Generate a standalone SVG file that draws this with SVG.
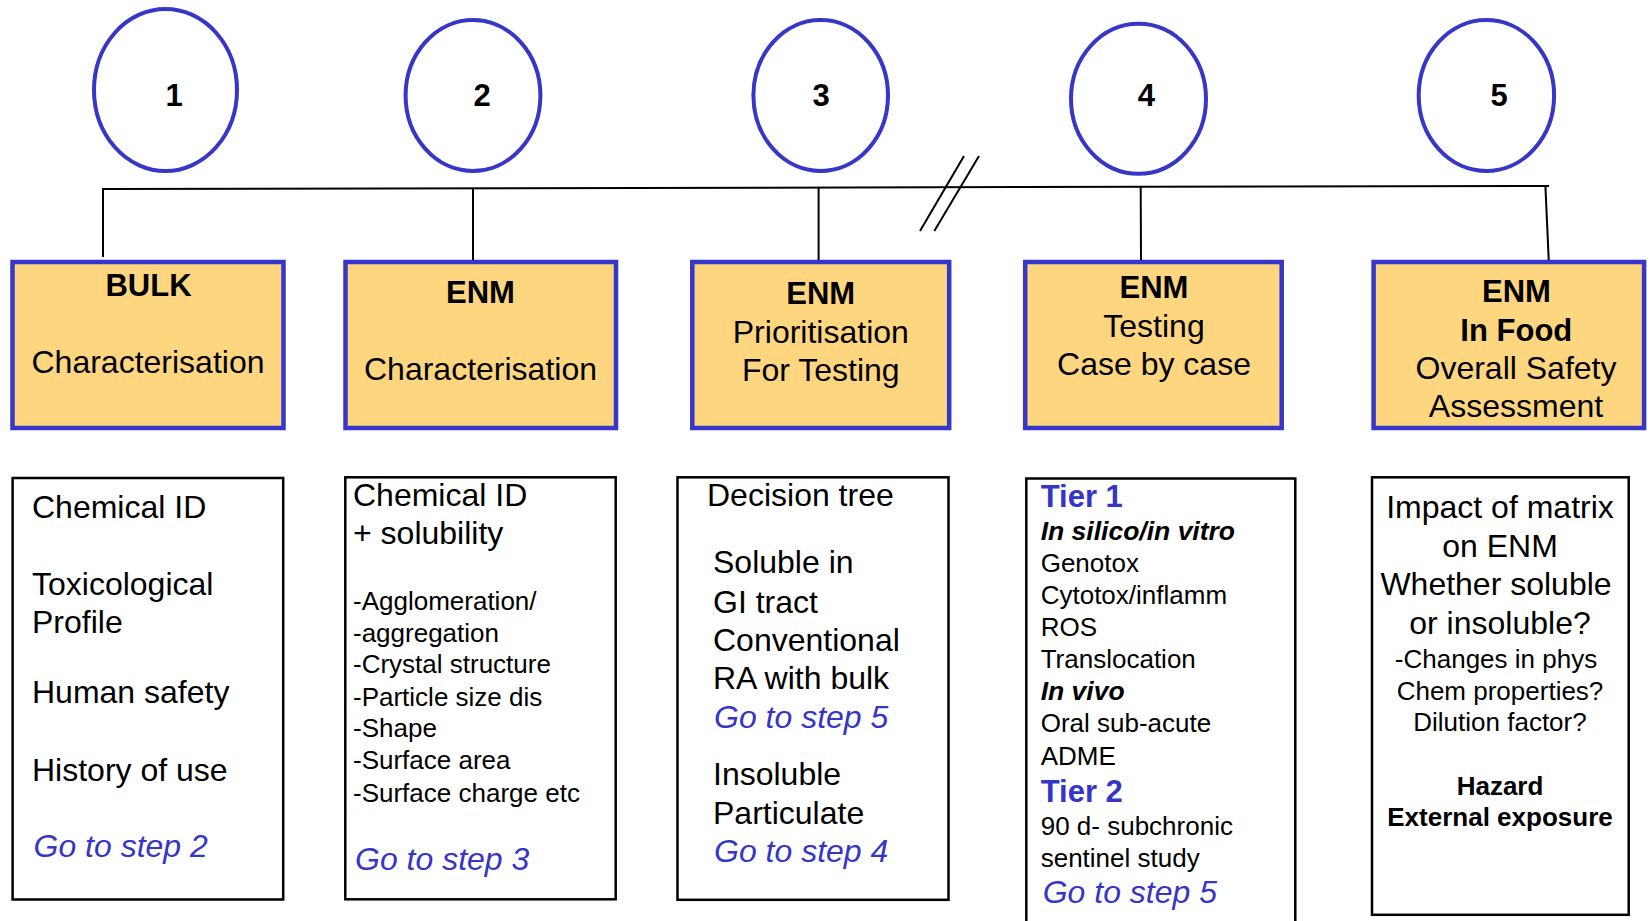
<svg xmlns="http://www.w3.org/2000/svg" width="1650" height="921" viewBox="0 0 1650 921">
<style>
text{font-family:"Liberation Sans",Arial,sans-serif;fill:#000}
.circ{fill:#fff;stroke:#3636C8;stroke-width:4}
.num{font-size:31px;font-weight:bold;text-anchor:middle}
.top{fill:#FED67F;stroke:#3636C8;stroke-width:4.5}
.bot{fill:#fff;stroke:#000;stroke-width:2.5}
.t32{font-size:32px}
.t26{font-size:26px}
.b31{font-size:31px;font-weight:bold}
.mid{text-anchor:middle}
.go{font-size:32px;font-style:italic;fill:#3535C8}
.tier{font-size:31px;font-weight:bold;fill:#3535C8}
.bi{font-size:26.5px;font-weight:bold;font-style:italic}
.b26{font-size:26px;font-weight:bold}
.conn{stroke:#000;stroke-width:2;fill:none}
</style>
<rect width="1650" height="921" fill="#fff"/>
<g id="connectors">
<line class="conn" x1="102" y1="189" x2="1549" y2="186"/>
<line class="conn" x1="103" y1="189" x2="103" y2="257"/>
<line class="conn" x1="473" y1="188" x2="473" y2="261"/>
<line class="conn" x1="818.6" y1="188" x2="818.6" y2="265"/>
<line class="conn" x1="1140.7" y1="187" x2="1141" y2="260"/>
<line class="conn" x1="1545.4" y1="186" x2="1549" y2="266"/>
<line class="conn" x1="920" y1="231" x2="964" y2="156"/>
<line class="conn" x1="934.3" y1="231" x2="979" y2="156"/>
</g>
<g id="step1"><ellipse class="circ" cx="165.5" cy="90" rx="71.5" ry="81"/><text class="num" x="174" y="106">1</text></g>
<g id="step2"><ellipse class="circ" cx="473" cy="95.5" rx="67.4" ry="75.5"/><text class="num" x="482" y="106">2</text></g>
<g id="step3"><ellipse class="circ" cx="820.7" cy="95.5" rx="67.3" ry="75.5"/><text class="num" x="821" y="106">3</text></g>
<g id="step4"><ellipse class="circ" cx="1138.5" cy="98.8" rx="67.5" ry="75"/><text class="num" x="1146.4" y="106">4</text></g>
<g id="step5"><ellipse class="circ" cx="1486.4" cy="95.5" rx="67.7" ry="75.5"/><text class="num" x="1499" y="106">5</text></g>

<g id="box1">
<rect class="top" x="12.5" y="262" width="271" height="166"/>
<text class="b31 mid" x="148.5" y="296">BULK</text>
<text class="t32 mid" x="148" y="373">Characterisation</text>
</g>
<g id="box2">
<rect class="top" x="345.5" y="262" width="270.5" height="166"/>
<text class="b31 mid" x="480.5" y="303">ENM</text>
<text class="t32 mid" x="480.5" y="380">Characterisation</text>
</g>
<g id="box3">
<rect class="top" x="692.3" y="262" width="256.9" height="166"/>
<text class="b31 mid" x="820.7" y="304">ENM</text>
<text class="t32 mid" x="820.8" y="343">Prioritisation</text>
<text class="t32 mid" x="820.8" y="381">For Testing</text>
</g>
<g id="box4">
<rect class="top" x="1025.2" y="262" width="256.5" height="166"/>
<text class="b31 mid" x="1154" y="298">ENM</text>
<text class="t32 mid" x="1154" y="337">Testing</text>
<text class="t32 mid" x="1154" y="375">Case by case</text>
</g>
<g id="box5">
<rect class="top" x="1373.6" y="262" width="270.5" height="166"/>
<text class="b31 mid" x="1516.4" y="301.7">ENM</text>
<text class="b31 mid" x="1516.3" y="340.7">In Food</text>
<text class="t32 mid" x="1516" y="379">Overall Safety</text>
<text class="t32 mid" x="1516" y="416.7">Assessment</text>
</g>

<g id="detail1">
<rect class="bot" x="12.6" y="478" width="270.6" height="421.5"/>
<text class="t32" x="32" y="518.3">Chemical ID</text>
<text class="t32" x="32" y="595">Toxicological</text>
<text class="t32" x="32" y="632.7">Profile</text>
<text class="t32" x="32" y="703.3">Human safety</text>
<text class="t32" x="32" y="780.7">History of use</text>
<text class="go" x="33.5" y="856.7">Go to step 2</text>
</g>
<g id="detail2">
<rect class="bot" x="345.3" y="477.3" width="270.4" height="422"/>
<text class="t32" x="353" y="506">Chemical ID</text>
<text class="t32" x="353" y="544">+ solubility</text>
<text class="t26" x="353" y="610">-Agglomeration/</text>
<text class="t26" x="353" y="641.7">-aggregation</text>
<text class="t26" x="353" y="673.3">-Crystal structure</text>
<text class="t26" x="353" y="705.7">-Particle size dis</text>
<text class="t26" x="353" y="737.3">-Shape</text>
<text class="t26" x="353" y="769.3">-Surface area</text>
<text class="t26" x="353" y="801.7">-Surface charge etc</text>
<text class="go" x="355" y="870">Go to step 3</text>
</g>
<g id="detail3">
<rect class="bot" x="677.5" y="477.3" width="271" height="422.5"/>
<text class="t32" x="707" y="505.7">Decision tree</text>
<text class="t32" x="713" y="573.3">Soluble in</text>
<text class="t32" x="713" y="612.7">GI tract</text>
<text class="t32" x="713" y="651">Conventional</text>
<text class="t32" x="713" y="689.3">RA with bulk</text>
<text class="go" x="714" y="727.7">Go to step 5</text>
<text class="t32" x="713" y="785">Insoluble</text>
<text class="t32" x="713" y="824.3">Particulate</text>
<text class="go" x="714" y="862.3">Go to step 4</text>
</g>
<g id="detail4">
<rect class="bot" x="1026.3" y="478.5" width="269" height="470"/>
<text class="tier" x="1040.7" y="507.3">Tier 1</text>
<text class="bi" x="1040.7" y="540">In silico/in vitro</text>
<text class="t26" x="1040.7" y="571.7">Genotox</text>
<text class="t26" x="1040.7" y="604">Cytotox/inflamm</text>
<text class="t26" x="1040.7" y="636">ROS</text>
<text class="t26" x="1040.7" y="668.3">Translocation</text>
<text class="bi" x="1040.7" y="700">In vivo</text>
<text class="t26" x="1040.7" y="732.3">Oral sub-acute</text>
<text class="t26" x="1040.7" y="765">ADME</text>
<text class="tier" x="1040.7" y="801.7">Tier 2</text>
<text class="t26" x="1040.7" y="835">90 d- subchronic</text>
<text class="t26" x="1040.7" y="866.5">sentinel study</text>
<text class="go" x="1042.7" y="903">Go to step 5</text>
</g>
<g id="detail5">
<rect class="bot" x="1372" y="477.3" width="256.7" height="437.5"/>
<text class="t32 mid" x="1500" y="518.3">Impact of matrix</text>
<text class="t32 mid" x="1500" y="557.3">on ENM</text>
<text class="t32 mid" x="1496" y="595">Whether soluble</text>
<text class="t32 mid" x="1500" y="634">or insoluble?</text>
<text class="t26 mid" x="1496" y="668">-Changes in phys</text>
<text class="t26 mid" x="1500" y="699.7">Chem properties?</text>
<text class="t26 mid" x="1500" y="731.3">Dilution factor?</text>
<text class="b26 mid" x="1500" y="795">Hazard</text>
<text class="b26 mid" x="1500" y="826">External exposure</text>
</g>
</svg>
